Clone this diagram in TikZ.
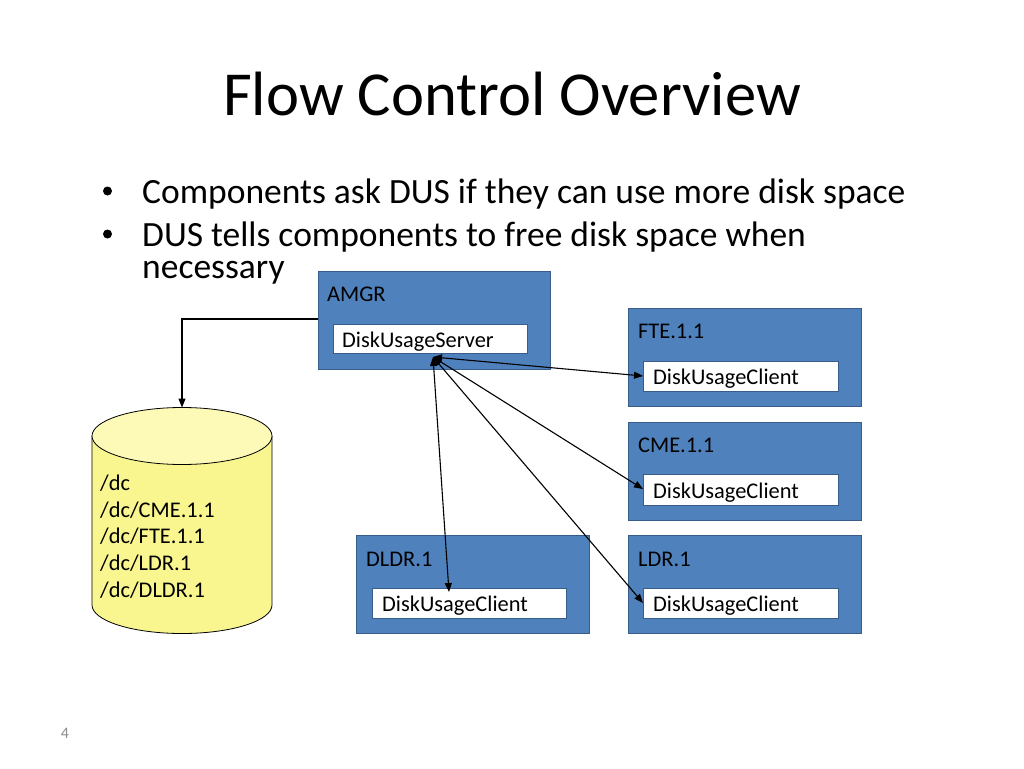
\documentclass[tikz,border=0pt]{standalone}
\usepackage{fontspec}
\setmainfont{Carlito}
\usetikzlibrary{arrows.meta}
\definecolor{boxblue}{HTML}{4F81BD}
\definecolor{boxedge}{HTML}{385D8A}
\definecolor{cylbody}{HTML}{FAF68F}
\definecolor{cyltop}{HTML}{FCFAB6}
\definecolor{pagegray}{HTML}{8C8C8C}
\tikzset{
  comp/.style={draw=boxedge, fill=boxblue, line width=0.8pt},
  inner/.style={draw=boxedge, fill=white, line width=0.8pt},
  lbl/.style={anchor=base west, inner sep=0pt, font=\fontsize{22.4}{26}\selectfont},
  bul/.style={anchor=base west, inner sep=0pt, font=\fontsize{35.5}{40}\selectfont},
  dot/.style={circle, fill=black, inner sep=0pt, minimum size=9pt},
  conn/.style={line width=1.1pt, {Triangle[length=9pt,width=7pt]}-{Triangle[length=9pt,width=7pt]}},
  elbow/.style={line width=1.1pt, -{Triangle[length=9pt,width=7pt]}},
}
\begin{document}
\begin{tikzpicture}[x=1pt,y=-1pt]
\useasboundingbox (0,0) rectangle (1024,768);
% title
\node[anchor=base, inner sep=0pt, font=\fontsize{62.6}{70}\selectfont] (title) at (512,115) {Flow Control Overview};
% bullets
\node[dot] (b1) at (107.5,191) {};
\node[bul] (t1) at (142,203) {Components ask DUS if they can use more disk space};
\node[dot] (b2) at (107.5,234) {};
\node[bul] (t2) at (142,246) {DUS tells components to free disk space when};
\node[bul] (t3) at (142,278) {necessary};
% AMGR
\draw[comp] (318,271) rectangle (550,369);
\node[lbl] (amgr) at (327,301) {AMGR};
\draw[inner] (333,324) rectangle (527,353);
\node[lbl] (srv) at (342,347) {DiskUsageServer};
\coordinate (amgrleft) at (318,319);
\coordinate (hub) at (433,357);
% FTE
\draw[comp] (628,308) rectangle (861,406);
\node[lbl] (fte) at (638,338) {FTE.1.1};
\draw[inner] (643,361) rectangle (838,391);
\node[lbl] (ftec) at (653,384) {DiskUsageClient};
\coordinate (fteIn) at (643,376);
% CME
\draw[comp] (628,422) rectangle (861,520);
\node[lbl] (cme) at (638,452) {CME.1.1};
\draw[inner] (643,474) rectangle (838,505);
\node[lbl] (cmec) at (653,498) {DiskUsageClient};
\coordinate (cmeIn) at (643,489);
% LDR
\draw[comp] (628,535) rectangle (861,633);
\node[lbl] (ldr) at (638,566) {LDR.1};
\draw[inner] (643,588) rectangle (838,618);
\node[lbl] (ldrc) at (653,611) {DiskUsageClient};
\coordinate (ldrIn) at (643,603);
% DLDR
\draw[comp] (356,535) rectangle (589,633);
\node[lbl] (dldr) at (366,566) {DLDR.1};
\draw[inner] (372,588) rectangle (566,618);
\node[lbl] (dldrc) at (382,611) {DiskUsageClient};
\coordinate (dldrIn) at (449,592);
% cylinder
\draw[line width=0.8pt, fill=cylbody] (92,436) -- (92,605) arc[start angle=180, end angle=360, x radius=90, y radius=-28.5] -- (272,436);
\draw[line width=0.8pt, fill=cyltop] (182,436) ellipse[x radius=90, y radius=28.5];
\coordinate (cyltopc) at (182,407.5);
\node[lbl] (dir1) at (100,490) {/dc};
\node[lbl] (dir2) at (100,517) {/dc/CME.1.1};
\node[lbl] (dir3) at (100,543) {/dc/FTE.1.1};
\node[lbl] (dir4) at (100,570) {/dc/LDR.1};
\node[lbl] (dir5) at (100,597) {/dc/DLDR.1};
% connectors
\draw[elbow] (amgrleft) -- (182,319) -- (cyltopc);
\draw[conn] (hub) -- (fteIn);
\draw[conn] (hub) -- (cmeIn);
\draw[conn] (hub) -- (ldrIn);
\draw[conn] (hub) -- (dldrIn);
% page number
\node[anchor=base, inner sep=0pt, text=pagegray, font=\fontsize{16}{18}\selectfont] (pg) at (65,738) {4};
\end{tikzpicture}
\end{document}
